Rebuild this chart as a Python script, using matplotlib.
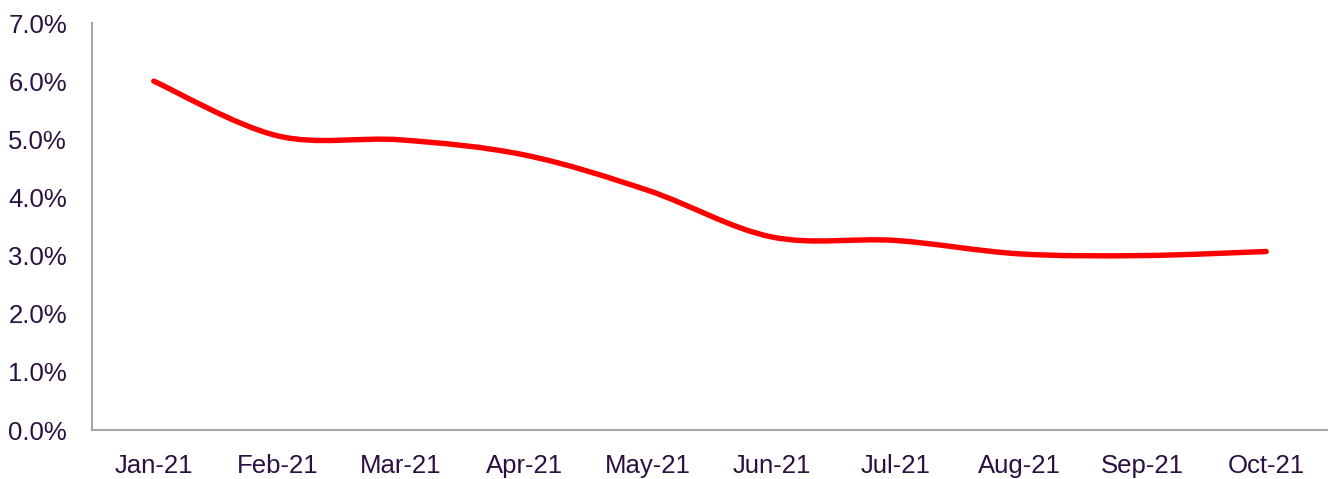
import numpy as np
import matplotlib
matplotlib.use("Agg")
import matplotlib.pyplot as plt
from matplotlib.path import Path
from matplotlib.patches import PathPatch

months = ["Jan-21", "Feb-21", "Mar-21", "Apr-21", "May-21", "Jun-21",
          "Jul-21", "Aug-21", "Sep-21", "Oct-21"]
rate = [6.0, 5.06, 4.99, 4.73, 4.12, 3.32, 3.26, 3.03, 3.0, 3.07]
yticks = [0, 1, 2, 3, 4, 5, 6, 7]

text_color = "#2b1040"
plt.rcParams['font.family'] = ['Liberation Sans', 'DejaVu Sans']

fig = plt.figure(figsize=(13.28, 4.79), dpi=100)
ax = fig.add_axes([92/1328, 1 - 430/479, (1328 - 92)/1328, (430 - 23)/479])

x = np.arange(len(months), dtype=float)
y = np.array(rate, dtype=float)

# Excel-style smoothed line (cubic Bezier, control points from neighbours)
verts = [(x[0], y[0])]
codes = [Path.MOVETO]
n = len(x)
for i in range(n - 1):
    p0 = np.array([x[max(i - 1, 0)], y[max(i - 1, 0)]])
    p1 = np.array([x[i], y[i]])
    p2 = np.array([x[i + 1], y[i + 1]])
    p3 = np.array([x[min(i + 2, n - 1)], y[min(i + 2, n - 1)]])
    c1 = p1 + (p2 - p0) / 6.0
    c2 = p2 - (p3 - p1) / 6.0
    verts += [tuple(c1), tuple(c2), tuple(p2)]
    codes += [Path.CURVE4, Path.CURVE4, Path.CURVE4]
patch = PathPatch(Path(verts, codes), facecolor="none", edgecolor="#ff0000",
                  lw=3.9, capstyle="round", joinstyle="round")
ax.add_patch(patch)

ax.set_xlim(-0.5, n - 0.5)
ax.set_ylim(0, 7)
ax.set_xticks(x)
ax.set_xticklabels(months)
ax.set_yticks(yticks)
ax.set_yticklabels([f"{v:.1f}%" for v in yticks])
ax.tick_params(axis="both", length=0, labelsize=18.5, colors=text_color)
ax.tick_params(axis="y", pad=18)
ax.tick_params(axis="x", pad=17)
for s in ["top", "right"]:
    ax.spines[s].set_visible(False)
for s in ["left", "bottom"]:
    ax.spines[s].set_color("#a6a6a6")
    ax.spines[s].set_linewidth(1.5)

fig.savefig("out.png", dpi=100)
